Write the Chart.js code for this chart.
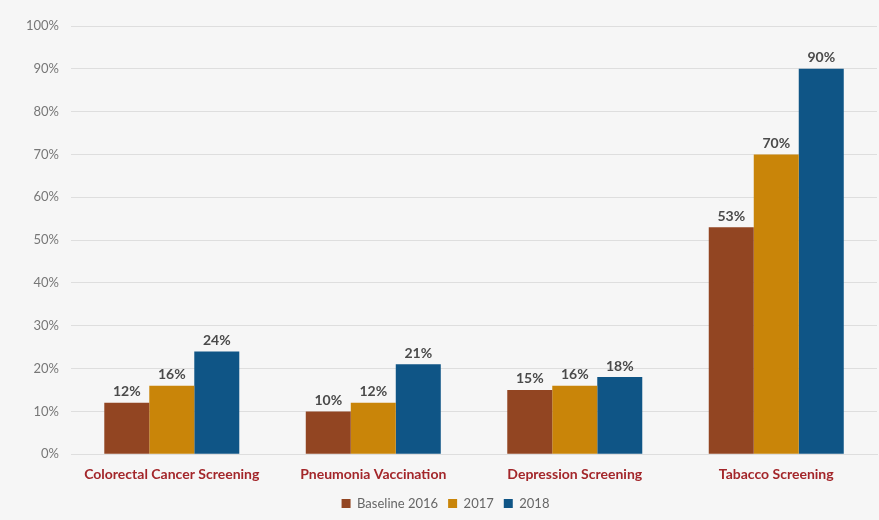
<!DOCTYPE html>
<html><head><meta charset="utf-8">
<script src="https://cdn.jsdelivr.net/npm/chart.js@4/dist/chart.umd.min.js"></script>
<style>
html,body{margin:0;padding:0;background:#f6f6f6;}
#wrap{width:879px;height:520px;position:relative;}
</style></head>
<body><div id="wrap"><canvas id="c" width="879" height="520"></canvas></div>
<script>
const categories = ["Colorectal Cancer Screening","Pneumonia Vaccination","Depression Screening","Tabacco Screening"];
const seriesNames = ["Baseline 2016","2017","2018"];
const baseline2016 = [12,10,15,53];
const y2017 = [16,12,16,70];
const y2018 = [24,21,18,90];
const colors = ["#924522","#c98509","#0f5586"];

const labelPlugin = {
  id:'valLabels',
  afterDatasetsDraw(chart){
    const ctx = chart.ctx;
    ctx.save();
    ctx.font = 'bold 14px Lato, "Open Sans", sans-serif';
    ctx.fillStyle = '#4a4a4a';
    ctx.textAlign = 'center';
    ctx.textBaseline = 'bottom';
    chart.data.datasets.forEach((ds,i)=>{
      chart.getDatasetMeta(i).data.forEach((bar,j)=>{
        ctx.fillText(ds.data[j]+'%', bar.x, bar.y-4);
      });
    });
    ctx.restore();
  }
};

new Chart(document.getElementById('c'),{
  type:'bar',
  data:{
    labels:categories,
    datasets:[
      {label:seriesNames[0],data:baseline2016,backgroundColor:colors[0]},
      {label:seriesNames[1],data:y2017,backgroundColor:colors[1]},
      {label:seriesNames[2],data:y2018,backgroundColor:colors[2]}
    ]
  },
  options:{
    responsive:false,
    animation:false,
    layout:{padding:{left:14,right:2,top:26,bottom:0}},
    datasets:{bar:{categoryPercentage:0.67,barPercentage:1}},
    plugins:{
      legend:{position:'bottom',labels:{boxWidth:9,boxHeight:9,color:'#666',font:{size:13,family:'Lato, "Open Sans", sans-serif'},padding:10}},
      tooltip:{enabled:false}
    },
    scales:{
      y:{min:0,max:100,ticks:{stepSize:10,callback:v=>v+'%',color:'#777',font:{size:13,family:'Lato, "Open Sans", sans-serif'},padding:12},
         grid:{color:'#dedede',drawTicks:false},border:{display:false}},
      x:{ticks:{color:'#a3262a',font:{size:14,weight:'bold',family:'Lato, "Open Sans", sans-serif'},padding:4},
         grid:{display:false},border:{color:'#dedede'}}
    }
  },
  plugins:[labelPlugin]
});
</script></body></html>
